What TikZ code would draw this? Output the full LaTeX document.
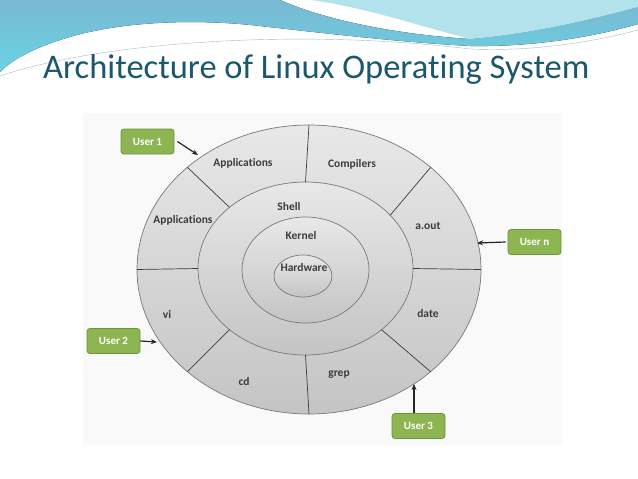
\documentclass[tikz,border=0pt]{standalone}
\usepackage{fontspec}
\setmainfont{Carlito}[Ligatures={NoCommon,NoContextual}]
\usetikzlibrary{shapes.geometric,arrows.meta}
\definecolor{titleteal}{RGB}{27,88,108}
\definecolor{wavetop}{RGB}{122,184,212}
\definecolor{wavecyan}{RGB}{104,212,226}
\definecolor{wavelight}{RGB}{178,226,236}
\definecolor{streakblue}{RGB}{160,190,205}
\definecolor{framebg}{RGB}{249,249,249}
\definecolor{ringline}{RGB}{120,120,120}
\definecolor{splitline}{RGB}{60,60,60}
\definecolor{ringtop}{RGB}{232,232,232}
\definecolor{ringbot}{RGB}{196,196,196}
\definecolor{labelgray}{RGB}{60,60,60}
\definecolor{usergreen}{RGB}{141,181,82}
\definecolor{userborder}{RGB}{108,148,58}
\tikzset{
    ring/.style={ellipse, draw=ringline, line width=0.7pt, top color=ringtop,
        bottom color=ringbot, inner sep=0pt},
    layer/.style={font=\fontsize{11.5}{13}\selectfont\bfseries, text=labelgray, inner sep=1pt},
    userbox/.style={draw=userborder, line width=0.8pt, fill=usergreen,
        rounded corners=3pt, minimum width=53pt, minimum height=25pt,
        text=white, font=\fontsize{11}{13}\selectfont\bfseries},
    userarrow/.style={-{Stealth[length=6pt,width=5pt]}, line width=1.2pt, black!85}
}

\begin{document}
\begin{tikzpicture}[x=1pt, y=-1pt]
    \useasboundingbox (0,0) rectangle (638,479);
    \fill[white] (0,0) rectangle (638,479);
    % slide waves
    \fill[top color=wavetop, bottom color=wavecyan]
        (0,0) -- (280,0) .. controls (320,18) and (390,34) .. (470,39)
        .. controls (530,34) and (590,20) .. (638,7) -- (638,24)
        .. controls (590,38) and (530,47) .. (470,46)
        .. controls (400,42) and (340,35) .. (260,26)
        .. controls (200,19) and (120,20) .. (60,40)
        .. controls (30,50) and (12,60) .. (0,72) -- cycle;
    \fill[wavelight] (310,0) -- (638,0) -- (638,7)
        .. controls (590,20) and (530,34) .. (470,39)
        .. controls (420,26) and (360,6) .. (310,0) -- cycle;
    \draw[streakblue, line width=0.4pt] (0,76) .. controls (100,42) and (300,28) .. (470,49)
        .. controls (540,52) and (600,40) .. (638,30);
    \node[anchor=base west, inner sep=0pt, font=\fontsize{34.5}{40}\selectfont, text=titleteal]
        (title) at (43,78) {Architecture of Linux Operating System};
    \fill[framebg] (83,113) rectangle (562,445);

    % rings
    \node[ring, minimum width=344pt, minimum height=289pt] (outer) at (309,269.5) {};
    \node[ring, minimum width=215pt, minimum height=173pt] (shell) at (305.5,268.5) {};
    \node[ring, minimum width=127pt, minimum height=106pt] (kernel) at (305.5,270) {};
    \node[ring, minimum width=58pt, minimum height=42pt] (hardware) at (303,276) {};
    \foreach \a/\b in {90/90, 135/135, 180/180, 225/225, 270/270, 315/315, 0/0, 38/45}
        \draw[splitline, line width=0.7pt] ([shift={(\a:107.5pt and 86.5pt)}]shell.center)
            -- ([shift={(\b:172pt and 144.5pt)}]outer.center);

    % labels
    \node[layer] (app1) at (243,163) {Applications};
    \node[layer] (comp) at (352,164) {Compilers};
    \node[layer] (app2) at (183,220) {Applications};
    \node[layer] (aout) at (428,226) {a.out};
    \node[layer] (vi) at (167,314) {vi};
    \node[layer] (date) at (428,314) {date};
    \node[layer] (cd) at (244,382) {cd};
    \node[layer] (grep) at (339,375) {grep};
    \node[layer] (shl) at (289,207) {Shell};
    \node[layer] (krn) at (301,236) {Kernel};
    \node[layer] (hw) at (304,268) {Hardware};

    % users
    \node[userbox] (u1) at (147.5,141.5) {User 1};
    \node[userbox] (un) at (534.5,242) {User n};
    \node[userbox] (u2) at (113.5,341) {User 2};
    \node[userbox] (u3) at (418.5,426) {User 3};
    \coordinate (t1) at (198,155);
    \coordinate (tn) at (477,243);
    \coordinate (t2) at (157,342);
    \coordinate (t3) at (414,384);
    \draw[userarrow] ([xshift=3pt]u1.east) -- (t1);
    \draw[userarrow] ([xshift=-2pt]un.west) -- (tn);
    \draw[userarrow] (u2.east) -- (t2);
    \draw[userarrow] (u3.north -| t3) -- (t3);
\end{tikzpicture}
\end{document}
